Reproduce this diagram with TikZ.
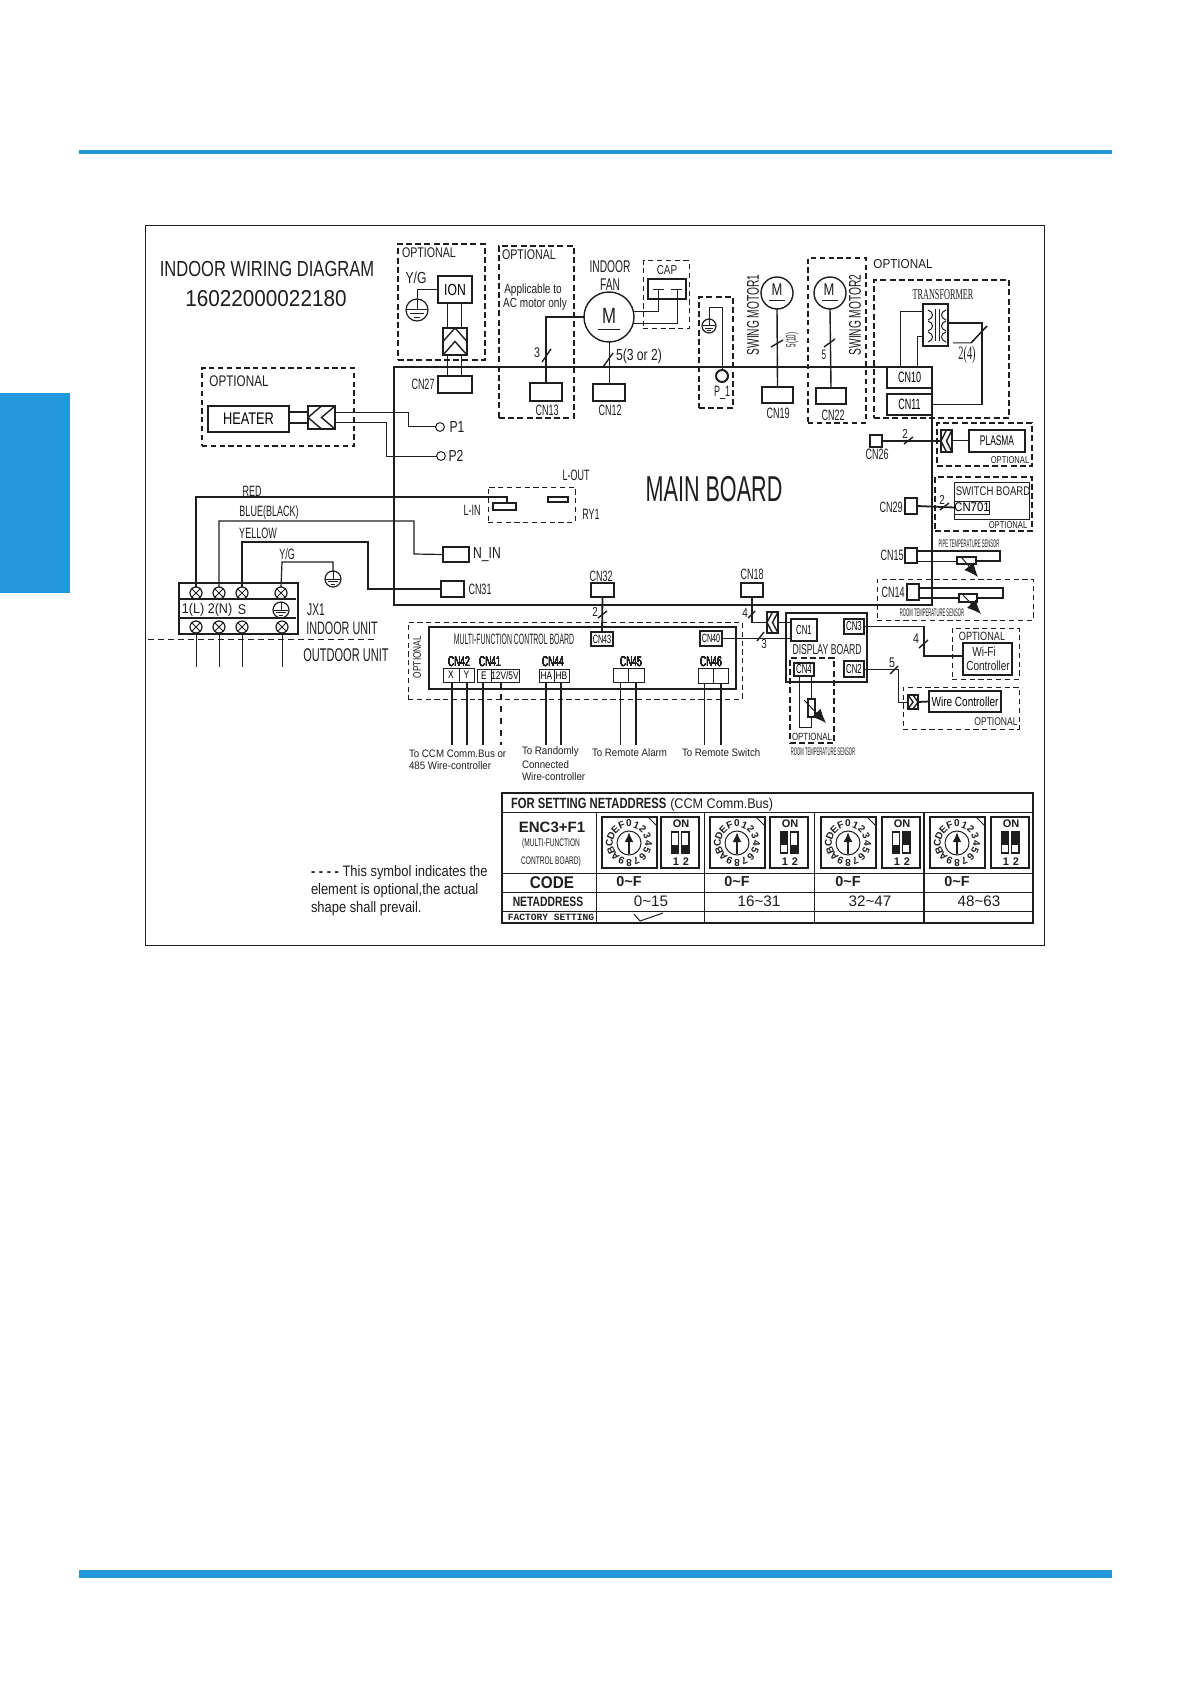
\documentclass[tikz,border=0pt]{standalone}
\usepackage{fontspec}
\setmainfont{Liberation Sans}
\newfontfamily\ffa[FakeStretch=0.9]{Liberation Sans}
\newfontfamily\ffn[FakeStretch=0.85]{Liberation Sans}
\newfontfamily\ffb[FakeStretch=0.76]{Liberation Sans}
\newfontfamily\ffc[FakeStretch=0.6]{Liberation Sans}
\newfontfamily\ffd[FakeStretch=0.46]{Liberation Sans}
\newfontfamily\ffe[FakeStretch=0.38]{Liberation Sans}
\newfontfamily\ffs[FakeStretch=0.55]{Liberation Serif}
\newfontfamily\ffm{Liberation Mono}
\newcommand{\fsz}[1]{\fontsize{#1}{#1}\selectfont}
\usetikzlibrary{arrows.meta,calc}
\definecolor{ink}{HTML}{1E1E1E}
\definecolor{brand}{HTML}{2496DB}
\tikzset{
  wire/.style={draw=ink,line width=.5pt},
  hwire/.style={draw=ink,line width=.9pt},
  box/.style={rectangle,draw=ink,line width=.5pt,inner sep=0pt,outer sep=0pt},
  hbox/.style={box,line width=1pt},
  optbox/.style={box,line width=.7pt,dash pattern=on 3pt off 1.6pt},
  thinopt/.style={box,line width=.5pt,dash pattern=on 2.6pt off 1.8pt},
  conn/.style={box,line width=.9pt},
  dot/.style={circle,draw=ink,line width=.5pt,inner sep=0pt,outer sep=0pt},
  motor/.style={dot,line width=.7pt},
  txt/.style={inner sep=0pt,outer sep=0pt,text=ink},
  cnlab/.style={txt,font=\ffc\fsz{7.5}},
  oplab/.style={txt,font=\ffb\fsz{7}},
  smalllab/.style={txt,font=\ffb\fsz{5}},
  senslab/.style={txt,font=\ffe\fsz{5.5}},
  endlab/.style={txt,anchor=west,font=\ffa\fsz{5.4}},
  head/.style={-{Latex[length=7pt,width=6pt]},wire}
}
\newcommand{\boxat}[7][box]{
  \node[#1,minimum width={abs((#5)-(#3))*0.5pt},minimum height={abs((#6)-(#4))*0.5pt}] (#2) at ({((#3)+(#5))/2},{((#4)+(#6))/2}) {#7};
}
\newcommand{\chevh}[5]{
  \boxat[conn]{#1}{#2}{#3}{#4}{#5}{}
  \foreach \t in {0,0.5}
    \draw[wire,line width=.7pt] ({#2+(#4-#2)*(\t+.5)},#3) -- ({#2+(#4-#2)*\t},{(#3+#5)/2}) -- ({#2+(#4-#2)*(\t+.5)},#5);
}
\newcommand{\chevv}[5]{
  \boxat[conn]{#1}{#2}{#3}{#4}{#5}{}
  \foreach \t in {0,0.5}
    \draw[wire,line width=.7pt] (#2,{#3+(#5-#3)*(\t+.5)}) -- ({(#2+#4)/2},{#3+(#5-#3)*\t}) -- (#4,{#3+(#5-#3)*(\t+.5)});
}
\newcommand{\gndsym}[4]{
  \node[dot,line width=.6pt,minimum size={2*#4*0.5pt}] (#1) at (#2,#3) {};
  \draw[wire] (#2,{#3-#4}) -- (#2,#3);
  \draw[wire] ({#2-.9*#4},#3) -- ({#2+.9*#4},#3);
  \draw[wire] ({#2-.6*#4},{#3+.35*#4}) -- ({#2+.6*#4},{#3+.35*#4});
  \draw[wire] ({#2-.3*#4},{#3+.65*#4}) -- ({#2+.3*#4},{#3+.65*#4});
}
\begin{document}
\begin{tikzpicture}[x=.5pt,y=-.5pt]
  \useasboundingbox (0,0) rectangle (1191,1684);
  \fill[brand] (79,150) rectangle (1112,154);
  \fill[brand] (79,1570) rectangle (1112,1578);
  \fill[brand] (0,393) rectangle (70,593);
  \boxat[box,line width=.4pt]{frame}{145}{225}{1044}{945}{}

  \node[txt,font=\ffb\fsz{10.9}] (title) at (267,269) {INDOOR WIRING DIAGRAM};
  \node[txt,font=\ffa\fsz{11.5}] (partno) at (266,299) {16022000022180};

  % main board and its sockets
  \boxat[hbox]{board}{394}{367}{932}{605}{}
  \node[txt,font=\ffc\fsz{18}] (boardname) at (714,489) {MAIN BOARD};
  \boxat[hbox]{CN27}{438}{376}{472}{393}{}
  \boxat[hbox]{CN13}{530}{383}{562}{401}{}
  \boxat[hbox]{CN12}{593}{384}{625}{401}{}
  \boxat[hbox]{CN19}{762}{387}{793}{403}{}
  \boxat[hbox]{CN22}{816}{388}{846}{404}{}
  \boxat[hbox]{CN10}{887}{367}{932}{388}{\ffc\fsz{7.5}CN10}
  \boxat[box,line width=.7pt]{CN11}{887}{394}{932}{415}{\ffc\fsz{7.5}CN11}
  \boxat[box,line width=.7pt]{CN26}{870}{435}{882}{447}{}
  \boxat[hbox]{CN29}{905}{498}{917}{514}{}
  \boxat[box,line width=.7pt]{CN15}{905}{548}{917}{563}{}
  \boxat[hbox]{CN14}{907}{584}{919}{600}{}
  \boxat[box,line width=.7pt]{CN18}{741}{583}{763}{597}{}
  \boxat[hbox]{CN32}{591}{583}{614}{597}{}
  \boxat[hbox]{NIN}{443}{547}{469}{562}{}
  \boxat[hbox]{CN31}{441}{581}{464}{597}{}
  \foreach \x/\y/\t in {423/384/CN27,547/410/CN13,610/410/CN12,778/413/CN19,833/415/CN22,877/454/CN26,891/507/CN29,892/555/CN15,893/592/CN14,752/574/CN18,601/576/CN32,480/589/CN31}
    \node[cnlab] (lab\t) at (\x,\y) {\t};
  \node[dot,minimum size=4.4pt] (P1) at (440,427) {};
  \node[dot,minimum size=4.4pt] (P2) at (441,456) {};
  \node[txt,font=\ffb\fsz{8}] (labP1) at (457,427) {P1};
  \node[txt,font=\ffb\fsz{8}] (labP2) at (456,456) {P2};
  \node[txt,font=\ffb\fsz{8}] (labNIN) at (487,555) {N\_IN};

  % relay
  \boxat[thinopt]{RY1}{488}{487}{575}{522}{}
  \boxat[hbox]{Lin}{493}{503}{516}{510}{}
  \boxat[hbox]{Lout}{548}{497}{568}{502}{}
  \node[cnlab] (labLin) at (472,510) {L-IN};
  \node[cnlab] (labLout) at (576,475) {L-OUT};
  \node[cnlab] (labRY) at (591,514) {RY1};

  % heater
  \boxat[thinopt,line width=.6pt]{heateropt}{202}{368}{354}{446}{}
  \node[oplab,font=\ffb\fsz{7.7}] (labheateropt) at (239,381) {OPTIONAL};
  \boxat[hbox]{heater}{208}{406}{289}{432}{\ffb\fsz{8.4}HEATER}
  \chevh{hconn}{308}{406}{335}{429}
  \draw[hwire] (heater.east |- 0,412) -- (hconn.west |- 0,412);
  \draw[hwire] (heater.east |- 0,423) -- (hconn.west |- 0,423);
  \draw[wire] (hconn.east |- 0,413) -| (408,427) -- (P1.west);
  \draw[wire] (hconn.east |- 0,423) -| (386,456) -- (P2.west);

  % ion
  \boxat[optbox]{ionopt}{398}{244}{485}{360}{}
  \node[oplab] (labionopt) at (429,253) {OPTIONAL};
  \node[txt,font=\ffb\fsz{8}] (labyg) at (416,278) {Y/G};
  \boxat[box,line width=.8pt]{ION}{438}{276}{472}{303}{\ffb\fsz{8}ION}
  \gndsym{gndion}{417}{310}{11}
  \chevv{ionconn}{443}{328}{467}{355}
  \draw[wire] (ION.west) -| (gndion.north);
  \draw[wire] (447,0 |- ION.south) -- (447,0 |- ionconn.north);
  \draw[wire] (461,0 |- ION.south) -- (461,0 |- ionconn.north);
  \draw[wire] (447,0 |- ionconn.south) -- (447,0 |- CN27.north);
  \draw[wire] (461,0 |- ionconn.south) -- (461,0 |- CN27.north);

  % fan
  \boxat[optbox]{fanopt}{499}{246}{574}{418}{}
  \node[oplab] (labfanopt) at (529,255) {OPTIONAL};
  \node[txt,font=\ffb\fsz{6.6}] (labac1) at (533,290) {Applicable to};
  \node[txt,font=\ffb\fsz{6.6}] (labac2) at (535,304) {AC motor only};
  \node[txt,font=\ffc\fsz{8.5}] (labfan1) at (610,267) {INDOOR};
  \node[txt,font=\ffc\fsz{8.5}] (labfan2) at (610,285) {FAN};
  \node[motor,minimum size=25pt] (fan) at (609,317) {};
  \node[txt,font=\ffb\fsz{11}] (fanM) at (609,316) {M};
  \draw[wire] ($(fan)+(-11,13)$) -- ($(fan)+(11,13)$);
  \boxat[thinopt]{capopt}{643}{261}{689}{329}{}
  \node[oplab,font=\ffb\fsz{6.5}] (labcap) at (667,270) {CAP};
  \boxat[box,line width=.8pt]{capbox}{648}{279}{686}{299}{}
  \coordinate (capA) at (658,290);
  \coordinate (capB) at (677,290);
  \draw[wire] (653,290) -- (664,290);
  \draw[wire] (671,290) -- (682,290);
  \draw[wire] (fan.12) -| (capA);
  \draw[wire] (fan.-16) -| (capB);
  \draw[hwire] (CN13.north) |- (fan.west);
  \draw[wire] (fan.south) -- (CN12.north);
  \node[txt,font=\ffb\fsz{7}] (lab3) at (537,353) {3};
  \node[txt,font=\ffb\fsz{8},anchor=west] (lab532) at (616,356) {5(3 or 2)};

  % earth point
  \boxat[optbox]{earthopt}{699}{297}{733}{408}{}
  \gndsym{gndp}{709}{326}{7}
  \node[dot,line width=1pt,minimum size=6pt] (Pone) at (722,376) {};
  \draw[wire] (gndp.north) |- (722,308) -- (Pone.north);
  \node[cnlab] (labPone) at (722,393) {P\_1};

  % swing motors
  \node[motor,minimum size=16pt] (SM1) at (777,293) {};
  \node[motor,minimum size=16pt] (SM2) at (830,293) {};
  \node[txt,font=\ffb\fsz{8.5}] (SM1M) at (777,290) {M};
  \node[txt,font=\ffb\fsz{8.5}] (SM2M) at (829,290) {M};
  \draw[wire] ($(SM1)+(-8,8)$) -- ($(SM1)+(8,8)$);
  \draw[wire] ($(SM2)+(-8,8)$) -- ($(SM2)+(8,8)$);
  \draw[wire,line width=.7pt] (SM1.south) -- (CN19.north);
  \draw[wire,line width=.7pt] (SM2.south) -- (CN22.north);
  \boxat[thinopt,line width=.6pt]{swingopt}{808}{258}{866}{423}{}
  \node[txt,font=\ffc\fsz{8.5},rotate=90] (labSM1) at (753,315) {SWING MOTOR1};
  \node[txt,font=\ffc\fsz{8.5},rotate=90] (labSM2) at (855,315) {SWING MOTOR2};
  \node[txt,font=\ffd\fsz{6.8},rotate=90] (lab510) at (792,340) {5(10)};
  \node[txt,font=\ffc\fsz{6.8}] (lab5a) at (824,355) {5};

  % transformer
  \node[txt,font=\ffa\fsz{6.5}] (labtropt) at (903,264) {OPTIONAL};
  \boxat[optbox]{tropt}{874}{280}{1009}{418}{}
  \node[txt,font=\ffs\fsz{7.5}] (labtrans) at (943,295) {TRANSFORMER};
  \boxat[box,line width=.8pt]{trans}{923}{304}{948}{346}{}
  \draw[wire] (935,309) -- (935,341);
  \draw[wire] (939,309) -- (939,341);
  \foreach \yy in {310,321,332} {
    \draw[wire] (928,\yy) .. controls (934,{\yy+2}) and (934,{\yy+8}) .. (928,{\yy+10});
    \draw[wire] (946,\yy) .. controls (940,{\yy+2}) and (940,{\yy+8}) .. (946,{\yy+10});
  }
  \draw[wire] (900,0 |- CN10.north) |- (trans.west |- 0,312);
  \draw[wire] (917,0 |- CN10.north) |- (trans.west |- 0,337);
  \draw[wire,line width=.8pt] (CN11.east) -| (982,323) -- (trans.east |- 0,323);
  \draw[wire] (953,343) -- (971,343) -- (987,326);
  \node[txt,font=\ffs\fsz{9.5}] (lab24) at (967,355) {2(4)};

  % plasma
  \boxat[optbox]{plasmaopt}{937}{423}{1032}{466}{}
  \boxat[box,line width=.8pt]{plasma}{969}{430}{1025}{452}{\ffc\fsz{7}PLASMA}
  \chevh{pconn}{941}{430}{952}{452}
  \draw[hwire] (CN26.east) -- (pconn.west);
  \draw[wire] (pconn.east) -- (plasma.west);
  \node[smalllab] (labplopt) at (1010,460) {OPTIONAL};
  \node[txt,font=\ffb\fsz{6.5}] (lab2c) at (905,434) {2};

  % switch board
  \boxat[optbox]{swopt}{935}{477}{1032}{531}{}
  \boxat{switch}{954}{482}{1029}{519}{}
  \node[txt,font=\ffb\fsz{6.3}] (labswitch) at (993,491) {SWITCH BOARD};
  \boxat{CN701}{955}{501}{989}{514}{\ffa\fsz{6.3}CN701}
  \draw[hwire] (CN29.east) -- (CN701.west);
  \node[smalllab] (labswopt) at (1008,525) {OPTIONAL};
  \node[txt,font=\ffb\fsz{6.5}] (lab2d) at (942,500) {2};

  % sensors on CN15 and CN14
  \boxat[box,line width=.7pt]{sensP}{957}{557}{976}{564}{}
  \draw[hwire] (CN15.east |- 0,551) -- (1000,551) -- (1000,561) -- (sensP.east |- 0,561);
  \draw[wire] (CN15.east |- 0,561) -- (sensP.west |- 0,561);
  \draw[head] (962,558) -- (978,577);
  \node[senslab] (labpipe) at (969,544) {PIPE TEMPERATURE SENSOR};
  \boxat[thinopt]{roomopt}{877}{579}{1033}{620}{}
  \boxat[box,line width=.7pt]{sensR}{959}{594}{977}{602}{}
  \draw[hwire] (CN14.east |- 0,588) -- (1003,588) -- (1003,598) -- (sensR.east);
  \draw[hwire] (CN14.east |- 0,598) -- (sensR.west);
  \draw[head] (963,595) -- (981,614);
  \node[senslab] (labroom) at (932,613) {ROOM TEMPERATURE SENSOR};

  % terminal block
  \boxat[hbox]{JX1}{179}{583}{298}{634}{}
  \draw[hwire] (JX1.west |- 0,599) -- (296,599);
  \draw[hwire] (JX1.west |- 0,618) -- (296,618);
  \foreach \n/\x/\u/\v in {a/196/196/196,b/219/219/219,c/242/242/242,d/281/282/282} {
    \node[dot,line width=.6pt,minimum size=6pt] (s\n) at (\x,593) {};
    \node[dot,line width=.6pt,minimum size=6pt] (t\n) at (\u,627) {};
    \draw[wire] (s\n.45) -- (s\n.225);
    \draw[wire] (s\n.135) -- (s\n.-45);
    \draw[wire] (t\n.45) -- (t\n.225);
    \draw[wire] (t\n.135) -- (t\n.-45);
    \draw[wire] (\v,0 |- JX1.south) -- (\v,667);
  }
  \foreach \n/\x/\t in {a/193/1(L),b/220/2(N),c/242/S}
    \node[txt,font=\ffa\fsz{7}] (term\n) at (\x,610) {\t};
  \gndsym{gndterm}{281}{610}{8}
  \gndsym{gndyg}{333}{579}{8}
  \draw[hwire] (sa.north) |- (507,497) -- (507,0 |- Lin.north);
  \draw[wire,line width=.6pt] (sb.north) -- (219,521) -| (414,554) -- (NIN.west);
  \draw[wire,line width=.6pt] (sc.north) -- (242,542) -| (368,589) -- (CN31.west);
  \draw[wire,line width=.6pt] (sd.north) -- (282,562) -| (gndyg.north);
  \node[cnlab,font=\ffc\fsz{7.5}] (labred) at (252,491) {RED};
  \node[cnlab,font=\ffc\fsz{7.5}] (labblue) at (269,513) {BLUE(BLACK)};
  \node[cnlab,font=\ffc\fsz{7.5}] (labyel) at (258,533) {YELLOW};
  \node[cnlab,font=\ffc\fsz{7.5}] (labyg2) at (287,554) {Y/G};
  \node[txt,font=\ffc\fsz{8.5}] (labjx) at (316,610) {JX1};
  \node[txt,font=\ffc\fsz{9}] (labin) at (342,628) {INDOOR UNIT};
  \node[txt,font=\ffc\fsz{9.2}] (labout) at (346,655) {OUTDOOR UNIT};
  \coordinate (splitL) at (148,639);
  \coordinate (splitR) at (378,639);
  \draw[wire,dash pattern=on 3pt off 2pt] (splitL) -- (splitR);

  % multi-function control board
  \boxat[thinopt]{mfopt}{408}{622}{742}{699}{}
  \node[txt,font=\ffb\fsz{5.5},rotate=90] (labmfopt) at (417,657) {OPTIONAL};
  \boxat[hbox]{mf}{429}{627}{736}{689}{}
  \node[txt,font=\ffd\fsz{7.5}] (labmf) at (514,639) {MULTI-FUNCTION CONTROL BOARD};
  \boxat[box,line width=.6pt]{CN43}{591}{632}{613}{646}{\ffc\fsz{6}CN43}
  \boxat[box,line width=.9pt]{CN40}{700}{631}{722}{646}{\ffc\fsz{6}CN40}
  \draw[hwire] (CN32.south) -- (CN43.north);
  \foreach \n/\xa/\xb/\ya/\yb/\t in {tX/443/459/668/682/X,tY/459/474/668/682/Y,tE/477/491/669/682/E,tV/491/519/669/682/12V{/}5V,tHA/539/554/669/682/HA,tHB/554/569/669/682/HB,tA/613/628/668/682/,tB/628/644/668/682/,tC/698/713/668/683/,tD/713/728/668/683/}
    \boxat{\n}{\xa}{\ya}{\xb}{\yb}{\ffb\fsz{5.5}\t}
  \foreach \x/\t in {459/CN42,490/CN41,553/CN44,631/CN45,711/CN46}
    \node[cnlab,font=\ffc\fsz{7.1}] (lab\t) at (\x,661.3) {\t};
  \foreach \n/\x/\w in {tX/452/.9pt,tY/467/.7pt,tE/483/.7pt,tHA/546/.9pt,tHB/561/.7pt,tA/620/.5pt,tB/636/.9pt,tC/704/.5pt,tD/721/.7pt}
    \draw[wire,line width=\w] (\x,0 |- \n.south) -- (\x,745);
  \draw[wire,line width=.9pt,dashed] (501,0 |- tV.south) -- (501,745);
  \node[endlab] (labccm1) at (409,754) {To CCM Comm.Bus or};
  \node[endlab] (labccm2) at (409,766) {485 Wire-controller};
  \node[endlab] (labrnd1) at (522,752) {To Randomly};
  \node[endlab] (labrnd2) at (522,765) {Connected};
  \node[endlab] (labrnd3) at (522,777) {Wire-controller};
  \node[endlab] (labalarm) at (592,753) {To Remote Alarm};
  \node[endlab] (labremote) at (682,753) {To Remote Switch};
  \node[txt,font=\ffb\fsz{6.5}] (lab2b) at (595,612) {2};

  % display board
  \boxat[box,line width=.7pt]{disp}{786}{613}{867}{682}{}
  \node[txt,font=\ffc\fsz{7.2}] (labdisp) at (827,650) {DISPLAY BOARD};
  \boxat[box,line width=.7pt]{CN1}{791}{619}{817}{641}{\ffc\fsz{6.5}CN1}
  \boxat[box,line width=.9pt]{CN3}{844}{619}{864}{634}{\ffc\fsz{6.5}CN3}
  \boxat[box,line width=.9pt]{CN2}{844}{661}{864}{677}{\ffc\fsz{6.5}CN2}
  \boxat[box,line width=.7pt]{CN4}{794}{663}{814}{676}{\ffc\fsz{6.5}CN4}
  \chevh{dconn}{767}{612}{778}{633}
  \draw[wire,line width=.7pt] (CN18.south) |- (dconn.west);
  \draw[hwire] (dconn.east) -- (CN1.west |- dconn.east);
  \draw[wire,line width=.7pt] (CN40.east) -- (CN1.west |- CN40.east);
  \node[txt,font=\ffb\fsz{6.5}] (lab4a) at (745,613) {4};
  \node[txt,font=\ffb\fsz{6.5}] (lab3b) at (764,644) {3};
  \boxat[optbox]{dsensopt}{790}{658}{834}{743}{}
  \boxat[box,line width=.7pt]{sensD}{808}{699}{815}{717}{}
  \draw[wire] (811,0 |- CN4.south) -- (811,0 |- sensD.north);
  \draw[wire] (799,0 |- CN4.south) -- (799,727) -| (sensD.south);
  \draw[head] (804,700) -- (826,723);
  \node[txt,font=\ffb\fsz{5.2}] (labdsopt) at (812,737) {OPTIONAL};
  \node[senslab] (labdroom) at (823,752) {ROOM TEMPERATURE SENSOR};

  % wifi and wire controller
  \boxat[thinopt]{wifiopt}{952}{628}{1019}{679}{}
  \node[smalllab,font=\ffb\fsz{6}] (labwfopt) at (982,636) {OPTIONAL};
  \boxat[box,line width=.9pt]{wifi}{963}{643}{1012}{675}{}
  \node[txt,font=\ffb\fsz{6.6}] (labwifi1) at (984,652) {Wi-Fi};
  \node[txt,font=\ffb\fsz{6.6}] (labwifi2) at (988,666) {Controller};
  \draw[wire,line width=.7pt] (CN3.east) -| (924,656) -- (wifi.west |- 0,656);
  \node[txt,font=\ffb\fsz{7}] (lab4b) at (916,639) {4};
  \boxat[thinopt]{wcopt}{903}{687}{1019}{729}{}
  \boxat[box,line width=.9pt]{wc}{929}{691}{1001}{712}{\ffb\fsz{6.6}Wire Controller}
  \chevh{wcconn}{918}{695}{908}{709}
  \draw[wire] (CN2.east) -| (898,702) -- (wcconn.west);
  \draw[hwire] (wcconn.east) -- (wc.west);
  \node[txt,font=\ffb\fsz{7}] (lab5b) at (892,663) {5};
  \node[smalllab,font=\ffb\fsz{5.6}] (labwcopt) at (996,722) {OPTIONAL};

  % ticks on the bundled wires
  \foreach \ax/\ay/\bx/\by in {542/362/551/349,603/367/613/353,771/347/783/340,824/347/835/339,904/444/913/437,940/510/949/503,598/618/607/611,748/618/755/611,757/641/764/632,919/648/928/640,890/674/898/666,971/343/987/326}
    \draw[wire,line width=.7pt] (\ax,\ay) -- (\bx,\by);

  % note
  \node[txt,font=\ffn\fontsize{7.6}{9}\selectfont,anchor=north west,align=left] (note) at (311,865) {{\bfseries- - - -} This symbol indicates the\\element is optional,the actual\\shape shall prevail.};

  % address table
  \boxat[box,line width=.6pt]{tbl}{502}{793}{1033}{923}{}
  \foreach \y in {812,873,892,911}
    \draw[wire] (tbl.west |- 0,\y) -- (tbl.east |- 0,\y);
  \foreach \x/\w in {596/.5pt,704/.5pt,814/.5pt,924/.9pt}
    \draw[wire,line width=\w] (\x,812) -- (\x,0 |- tbl.south);
  \node[txt,anchor=west,font=\fsz{7}] (tblhead) at (511,804.5) {{\ffb\fsz{7.4}\bfseries FOR SETTING NETADDRESS} {\ffa(CCM Comm.Bus)}};
  \node[txt,font=\bfseries\fsz{7.5}] (labenc) at (552,827) {ENC3+F1};
  \node[txt,font=\ffc\fsz{5.5}] (labmfb1) at (551,844) {(MULTI-FUNCTION};
  \node[txt,font=\ffc\fsz{5.5}] (labmfb2) at (551,862) {CONTROL BOARD)};
  \node[txt,font=\ffa\bfseries\fsz{8.5}] (labcode) at (552,883) {CODE};
  \node[txt,font=\ffb\bfseries\fsz{6.8}] (labnet) at (548,902) {NETADDRESS};
  \node[txt,font=\ffm\bfseries\fsz{4.8}] (labfact) at (551,917) {FACTORY SETTING};
  \draw[wire] (634,914) -- (640,921) -- (663,913);
  \foreach \n/\cx/\dx/\pa/\pb/\qa/\qb/\r in {one/629/661/845/853/845/853/0\textasciitilde15,two/737/770/832/845/845/853/16\textasciitilde31,three/848/882/845/853/832/845/32\textasciitilde47,four/957/991/832/845/832/845/48\textasciitilde63} {
    \boxat[box,line width=.6pt]{dial\n}{\cx-27}{817}{\cx+28}{868}{}
    \boxat[box,line width=.6pt]{dip\n}{\dx}{817}{\dx+38}{868}{}
    \draw[wire] (\cx+19,817) -- (\cx+28,826);
    \node[dot,line width=.5pt,minimum size=12pt] (ring\n) at (\cx,843) {};
    \draw[-{Latex[length=5pt,width=4.5pt]},draw=ink,line width=1pt] (\cx,854) -- (\cx,832);
    \foreach \i/\t in {0/0,1/1,2/2,3/3,4/4,5/5,6/6,7/7,8/8,9/9,10/A,11/B,12/C,13/D,14/E,15/F}
      \node[txt,font=\bfseries\fsz{5},rotate={-22.5*\i}] (d\n\i) at ({\cx+19.5*sin(22.5*\i)},{843-19.5*cos(22.5*\i)}) {\t};
    \node[txt,font=\bfseries\fsz{5.5}] (on\n) at (\dx+20,824) {ON};
    \node[txt,font=\bfseries\fsz{5.5}] (one\n) at (\dx+15,862) {1};
    \node[txt,font=\bfseries\fsz{5.5}] (two\n) at (\dx+25,862) {2};
    \draw[wire,line width=.6pt] (\dx+10.5,832) rectangle (\dx+17.5,853);
    \draw[wire,line width=.6pt] (\dx+20.5,832) rectangle (\dx+28,853);
    \fill[ink] (\dx+10.5,\pa) rectangle (\dx+17.5,\pb);
    \fill[ink] (\dx+20.5,\qa) rectangle (\dx+28,\qb);
    \node[txt,font=\bfseries\fsz{7.2}] (code\n) at (\cx,882) {0\textasciitilde F};
    \node[txt,font=\fsz{7.6}] (addr\n) at (\cx+22,901) {\r};
  }
\end{tikzpicture}
\end{document}
